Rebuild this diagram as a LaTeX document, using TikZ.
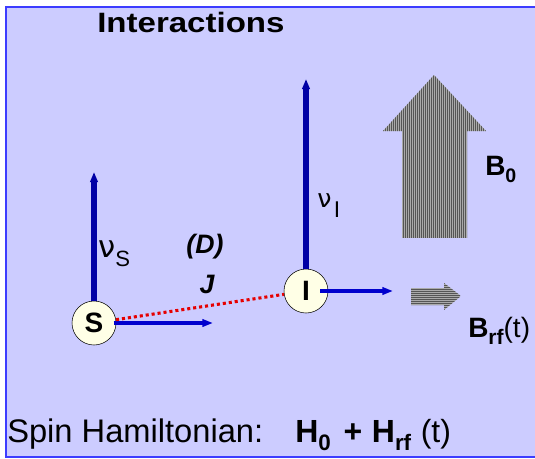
\documentclass[tikz,border=0pt]{standalone}
\usepackage{fontspec}
\setmainfont{Liberation Sans}
\newfontfamily\titlefont[FakeStretch=1.18]{Liberation Sans}
\newfontfamily\greekfont{DejaVu Sans}
\usetikzlibrary{arrows.meta}
\definecolor{panel}{RGB}{204,204,255}
\definecolor{panelrim}{RGB}{60,60,255}
\definecolor{spinblue}{RGB}{0,0,165}
\definecolor{fieldblue}{RGB}{0,0,205}
\definecolor{spinfill}{RGB}{255,255,230}
\definecolor{couple}{RGB}{230,0,0}
\definecolor{stripedark}{RGB}{85,85,85}
\definecolor{stripelight}{RGB}{170,170,170}
\newcommand{\lowsub}[2][0.65]{\raisebox{-0.28em}{\scalebox{#1}{#2}}}

\begin{document}
\begin{tikzpicture}[x=0.75pt,y=-0.75pt,
    spin/.style={circle,draw=black,thin,fill=spinfill,minimum size=33pt,
      inner sep=0pt,font=\fontsize{21}{21}\selectfont\bfseries},
    precess/.style={draw=spinblue,line width=3.9pt,-{Triangle[length=7.5pt,width=5.5pt]}},
    rfvec/.style={draw=fieldblue,line width=2.5pt,-{Triangle[length=8pt,width=5.5pt]}},
    coupling/.style={draw=couple,line width=2.3pt,dash pattern=on 2.3pt off 2.2pt},
    lab/.style={inner sep=0pt,anchor=base west}]
  \useasboundingbox (0,0) rectangle (535,458);
  \clip (0,0) rectangle (535,458);
  \draw[panelrim,line width=1.5pt,fill=panel] (6,7) rectangle (545,457);
  \node[lab,font=\titlefont\fontsize{21}{21}\selectfont\bfseries] (title) at (97,32) {Interactions};

  % spins and their vectors
  \node[spin] (S) at (94,323) {S};
  \node[spin] (I) at (306,291) {I};
  \coordinate (nuStip) at (94,172);
  \coordinate (nuItip) at (306,79);
  \coordinate (Stip) at (213,323);
  \coordinate (Itip) at (393,291);
  \draw[precess] (S.north) -- (nuStip);
  \draw[precess] (I.north) -- (nuItip);
  \draw[rfvec] ([xshift=-2pt]S.east) -- (Stip);
  \draw[rfvec] ([xshift=-6pt]I.east) -- (Itip);
  \draw[coupling] (S) -- (I);
  \node[lab,font=\fontsize{23}{23}\selectfont] (nuS) at (98,257)
    {{\greekfont ν}\raisebox{-0.3em}{\scalebox{0.72}{S}}};
  \node[lab,font=\fontsize{19}{19}\selectfont] (nuI) at (317,207)
    {{\greekfont ν}\hspace{0.1em}\raisebox{-0.4em}{\scalebox{0.9}{I}}};
  \node[font=\fontsize{20}{20}\selectfont\bfseries\itshape] (Dlab) at (205,247) {(D)};
  \node[font=\fontsize{20}{20}\selectfont\bfseries\itshape] (Jlab) at (207,284) {J};

  % static field
  \begin{scope}
    \clip (434,75) -- (486,131) -- (467,131) -- (467,238) -- (402,238) -- (402,131) -- (383,131) -- cycle;
    \fill[stripelight] (383,75) rectangle (486,238);
    \foreach \x in {383,385,...,487}
      \draw[stripedark,line width=0.75pt] (\x,75) -- (\x,238);
  \end{scope}
  \node[lab,font=\fontsize{21}{21}\selectfont\bfseries] (Bzero) at (485,175) {B\lowsub[0.7]{0}};

  % rf field
  \begin{scope}
    \clip (411,288) -- (444,288) -- (444,283) -- (461,296) -- (444,310) -- (444,305) -- (411,305) -- cycle;
    \fill[stripelight] (411,283) rectangle (461,310);
    \foreach \y in {283,285,...,311}
      \draw[stripedark,line width=0.75pt] (411,\y) -- (461,\y);
  \end{scope}
  \node[lab,font=\fontsize{21}{21}\selectfont] (Brf) at (468,337)
    {\bfseries B\lowsub[0.75]{rf}\mdseries\fontsize{21}{21}\selectfont(t)};

  \node[lab,font=\fontsize{24.5}{24.5}\selectfont] (ham) at (7,442) {Spin Hamiltonian:};
  \node[lab,font=\fontsize{24}{24}\selectfont\bfseries] (hsum) at (295,442)
    {H\lowsub[0.7]{0}\hspace{0.4em}+\hspace{0.3em}H\lowsub[0.7]{rf}\hspace{0.3em}\mdseries(t)};
\end{tikzpicture}
\end{document}
